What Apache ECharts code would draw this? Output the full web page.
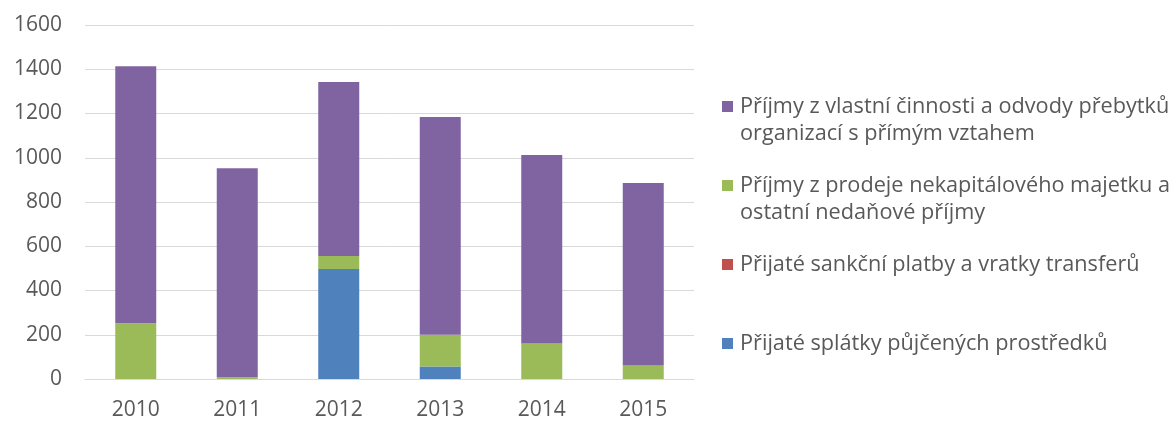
<!DOCTYPE html>
<html>
<head>
<meta charset="utf-8">
<script src="https://cdn.jsdelivr.net/npm/echarts@6/dist/echarts.min.js"></script>
<style>
html, body { margin: 0; padding: 0; background: #fff; }
#chart { width: 1176px; height: 421px; }
</style>
</head>
<body>
<div id="chart"></div>
<script>
var years = ['2010', '2011', '2012', '2013', '2014', '2015'];
var splatky = [0, 0, 497, 56, 0, 0];
var sankcni = [0, 0, 0, 0, 0, 0];
var prodej = [252, 8, 59, 144, 160, 61];
var vlastni = [1162, 945, 786, 984, 852, 825];
var yTicks = [0, 200, 400, 600, 800, 1000, 1200, 1400, 1600];

var names = {
    vlastni: 'Příjmy z vlastní činnosti a odvody přebytků\norganizací s přímým vztahem',
    prodej: 'Příjmy z prodeje nekapitálového majetku a\nostatní nedaňové příjmy',
    sankcni: 'Přijaté sankční platby a vratky transferů\n ',
    splatky: 'Přijaté splátky půjčených prostředků\n '
};

// square sitting on the first text line of a two-line legend item
var icon = 'path://M0,0L0,0M11,54L11,54M0,8L11,8L11,19L0,19Z';

var chart = echarts.init(document.getElementById('chart'));
chart.setOption({
    textStyle: { fontFamily: 'Open Sans' },
    grid: { left: 85, right: 482, top: 25, bottom: 42 },
    legend: {
        orient: 'vertical',
        left: 722,
        top: 93,
        padding: 0,
        itemWidth: 11,
        itemHeight: 54,
        itemGap: 25,
        icon: icon,
        data: [names.vlastni, names.prodej, names.sankcni, names.splatky],
        textStyle: { color: '#595959', fontSize: 21.7, lineHeight: 27, padding: [0, 0, 0, 2] }
    },
    xAxis: {
        type: 'category',
        data: years,
        axisLine: { lineStyle: { color: '#d9d9d9', width: 1 } },
        axisTick: { show: false },
        axisLabel: { color: '#595959', fontSize: 21, margin: 21 }
    },
    yAxis: {
        type: 'value',
        min: 0,
        max: 1600,
        interval: 200,
        axisLine: { show: false },
        axisTick: { show: false },
        axisLabel: {
            color: '#595959', fontSize: 21, margin: 23,
            formatter: function (v) { return yTicks.indexOf(v) >= 0 ? String(v) : ''; }
        },
        splitLine: { lineStyle: { color: '#d9d9d9', width: 1 } }
    },
    series: [
        { name: names.splatky, type: 'bar', stack: 'a', barWidth: 41, data: splatky, itemStyle: { color: '#4f81bd' } },
        { name: names.sankcni, type: 'bar', stack: 'a', barWidth: 41, data: sankcni, itemStyle: { color: '#c0504d' } },
        { name: names.prodej, type: 'bar', stack: 'a', barWidth: 41, data: prodej, itemStyle: { color: '#9bbb59' } },
        { name: names.vlastni, type: 'bar', stack: 'a', barWidth: 41, data: vlastni, itemStyle: { color: '#8064a2' } }
    ]
});
</script>
</body>
</html>
